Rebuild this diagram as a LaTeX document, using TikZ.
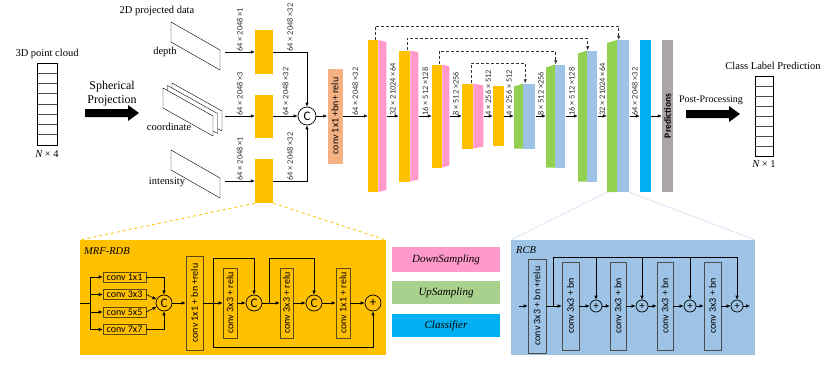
\documentclass[tikz,border=0pt]{standalone}
\usepackage{fontspec}
\setmainfont{Liberation Serif}
\setsansfont{Carlito}
\usepackage{graphicx}
\usetikzlibrary{arrows.meta,positioning,calc}

\definecolor{encyel}{HTML}{FFC000}
\definecolor{downpink}{HTML}{FF99CC}
\definecolor{upgreen}{HTML}{92D050}
\definecolor{upblue}{HTML}{9DC3E6}
\definecolor{clsblue}{HTML}{00B0F0}
\definecolor{predgray}{HTML}{AAA6A5}
\definecolor{convsalmon}{HTML}{F4B183}
\definecolor{leggreen}{HTML}{A9D18E}
\definecolor{boxline}{HTML}{5A4A10}

\begin{document}
\begin{tikzpicture}[x=1pt, y=-1pt,
  every node/.style={inner sep=0pt, font=\fontsize{10.5}{12}\selectfont},
  arrow/.style={-{Latex[length=4pt,width=3.5pt]}, line width=0.6pt},
  skip/.style={-{Latex[length=4pt,width=3.5pt]}, densely dashed, line width=0.6pt, black!80},
  dim/.style={rotate=90, anchor=west, font=\sffamily\fontsize{8.4}{9}\selectfont, text=black!80},
  conv/.style={font=\sffamily\fontsize{10}{11}\selectfont},
  mbox/.style={conv, draw=boxline, line width=0.6pt},
  rbox/.style={conv, draw=black!70, line width=0.6pt},
  circ/.style={circle, draw, line width=0.7pt, minimum size=16pt, font=\sffamily\fontsize{13}{13}\selectfont},
  pcirc/.style={circle, draw, line width=0.7pt, minimum size=12pt, font=\sffamily\fontsize{11}{11}\selectfont},
  down/.style={fill=white, path picture={\fill[downpink] (path picture bounding box.north west) -- ([yshift=-2pt]path picture bounding box.north east) -- ([yshift=2pt]path picture bounding box.south east) -- (path picture bounding box.south west) -- cycle;}},
  up/.style={fill=white, path picture={\fill[upgreen] ([yshift=-3pt]path picture bounding box.north west) -- (path picture bounding box.north east) -- (path picture bounding box.south east) -- (path picture bounding box.south west) -- cycle;}},
  fat/.style={fill=black}
]
\useasboundingbox (0,0) rectangle (830,367);

% input point cloud
\node (cloudlbl) at (47,54) {3D point cloud};
\node[draw, minimum width=20pt, minimum height=82pt] (cloud) at (47,104) {};
\foreach \i in {1,...,7}
  \draw[black!70] ($(cloud.north west)+(0,10.25*\i)$) -- ++(20,0);
\node (cloudn) at (47,154) {{\itshape N} × 4};

\node[align=center, font=\fontsize{12}{14}\selectfont] (sph) at (112,94) {Spherical\\Projection};
\fill[fat] (85,109) -- (128,109) -- (128,105) -- (139,113) -- (128,121) -- (128,117) -- (85,117) -- cycle;

% projected images
\node (projlbl) at (157,11) {2D projected data};
\draw[fill=white] (171,22) -- (220,50) -- (220,70) -- (171,42) -- cycle;
\foreach \dx/\dy in {9/-5, 4.5/-2.5, 0/0}
  \draw[fill=white, shift={(\dx,\dy)}] (163,88) -- ++(50,28) -- ++(0,20) -- ++(-50,-28) -- cycle;
\draw[fill=white] (171,150) -- (220,178) -- (220,198) -- (171,170) -- cycle;
\node (depthlbl) at (165,52) {depth};
\node (coordlbl) at (169,127) {coordinate};
\node (intlbl) at (167,182) {intensity};
\coordinate (depthout) at (225,52);
\coordinate (coordout) at (225,116);
\coordinate (intout) at (225,181);

\node[fill=encyel, minimum width=18pt, minimum height=44pt] (b1) at (264,52) {};
\node[fill=encyel, minimum width=18pt, minimum height=43pt] (b2) at (264,116) {};
\node[fill=encyel, minimum width=18pt, minimum height=44pt] (b3) at (264,181) {};
\draw[arrow] (depthout) -- node[dim] {64 × 2048 ×1} (b1);
\draw[arrow] (coordout) -- node[dim] {64 × 2048 ×3} (b2);
\draw[arrow] (intout) -- node[dim] {64 × 2048 ×1} (b3);

\node[circ, minimum size=18pt] (cat) at (307,116) {C};
\draw[arrow] (b1) -| node[dim, pos=0.25] {64 × 2048 ×32} (cat);
\draw[arrow] (b2) -- node[dim] {64 × 2048 ×32} (cat);
\draw[arrow] (b3) -| node[dim, pos=0.25] {64 × 2048 ×32} (cat);

\node[fill=convsalmon, minimum width=15pt, minimum height=95pt, conv] (conv1) at (335,116) {\rotatebox{90}{conv 1x1 +bn+ relu}};
\draw[arrow] (cat) -- (conv1);

% encoder
\node[fill=encyel, minimum width=10pt, minimum height=152pt] (e1) at (373,116) {};
\node[down, minimum width=8pt, minimum height=152pt, right=0pt of e1] (e1p) {};
\node[fill=encyel, minimum width=11pt, minimum height=131pt] (e2) at (404.5,116) {};
\node[down, minimum width=8pt, minimum height=131pt, right=0pt of e2] (e2p) {};
\node[fill=encyel, minimum width=10pt, minimum height=103pt] (e3) at (437,116) {};
\node[down, minimum width=7pt, minimum height=103pt, right=0pt of e3] (e3p) {};
\node[fill=encyel, minimum width=11pt, minimum height=65pt] (e4) at (467.5,116) {};
\node[down, minimum width=10pt, minimum height=65pt, right=0pt of e4] (e4p) {};
\node[fill=encyel, minimum width=11pt, minimum height=60pt] (e5) at (498.5,116) {};

% decoder
\node[up, minimum width=9pt, minimum height=65pt] (d1g) at (518.5,116) {};
\node[fill=upblue, minimum width=12pt, minimum height=65pt, right=0pt of d1g] (d1b) {};
\node[up, minimum width=9pt, minimum height=103pt] (d2g) at (550.5,116) {};
\node[fill=upblue, minimum width=10pt, minimum height=103pt, right=0pt of d2g] (d2b) {};
\node[up, minimum width=9pt, minimum height=131pt] (d3g) at (582.5,116) {};
\node[fill=upblue, minimum width=10pt, minimum height=131pt, right=0pt of d3g] (d3b) {};
\node[up, minimum width=10pt, minimum height=152pt] (d4g) at (612,116) {};
\node[fill=upblue, minimum width=12pt, minimum height=152pt, right=0pt of d4g] (d4b) {};
\node[fill=clsblue, minimum width=11pt, minimum height=152pt] (cls) at (645.5,116) {};
\node[fill=predgray, minimum width=11pt, minimum height=152pt, font=\sffamily\bfseries\fontsize{9.5}{10}\selectfont] (pred) at (667.5,116) {\rotatebox{90}{Predictions}};

\draw[arrow] (conv1) -- node[dim] {64 × 2048 ×32} (e1);
\draw[arrow] (e1p) -- node[dim] {32 × 21024 ×64} (e2);
\draw[arrow] (e2p) -- node[dim] {16 × 512 ×128} (e3);
\draw[arrow] (e3p) -- node[dim] {8 × 512 ×256} (e4);
\draw[arrow] (e4p) -- node[dim] {4 × 256 × 512} (e5);
\draw[arrow] (e5) -- node[dim] {4 × 256 × 512} (d1g);
\draw[arrow] (d1b) -- node[dim] {8 × 512 ×256} (d2g);
\draw[arrow] (d2b) -- node[dim] {16 × 512 ×128} (d3g);
\draw[arrow] (d3b) -- node[dim] {32 × 21024 ×64} (d4g);
\draw[arrow] (d4b) -- node[dim] {64 × 2048 ×32} (cls);
\draw[arrow] (cls) -- (pred);

% skip connections
\draw[skip] ([xshift=2pt]e1.north) -- ++(0,-14) -| ([xshift=1.5pt]d4b.north west);
\draw[skip] ([xshift=2.5pt]e2.north) -- ++(0,-12) -| ([xshift=0.5pt]d3b.north west);
\draw[skip] ([xshift=2pt]e3.north) -- ++(0,-13) -| ([xshift=0.5pt]d2b.north west);
\draw[skip] ([xshift=3.5pt]e4.north) -- ++(0,-20) -| ([xshift=2pt]d1b.north west);

% output
\node[font=\fontsize{10}{12}\selectfont] (postlbl) at (711,100) {Post-Processing};
\fill[fat] (686,110) -- (729,110) -- (729,106) -- (740,114) -- (729,122) -- (729,118) -- (686,118) -- cycle;
\node (outlbl) at (773,66) {Class Label Prediction};
\node[draw, minimum width=18pt, minimum height=80pt] (outcol) at (764,116) {};
\foreach \i in {1,...,7}
  \draw[black!70] ($(outcol.north west)+(0,10*\i)$) -- ++(18,0);
\node (outn) at (764,164) {{\itshape N} × 1};

% MRF-RDB detail
\draw[encyel, dashed, line width=0.8pt] (b3.south west) -- (80,240);
\draw[encyel, dashed, line width=0.8pt] (b3.south east) -- (386,240);
\node[fill=encyel, minimum width=306pt, minimum height=115pt] (mrf) at (233,297.5) {};
\node[anchor=west, font=\itshape\fontsize{10.5}{12}\selectfont] (mrflbl) at (84,251) {MRF-RDB};
\coordinate (mrfin) at (80,303);
\coordinate (mrfbr) at (90,303);
\foreach \k/\y/\lab in {k1/277/1x1, k2/294.5/3x3, k3/312/5x5, k4/329.5/7x7}
  \node[mbox, minimum width=43pt, minimum height=10pt] (\k) at (124.5,\y) {conv \lab};
\draw[line width=0.6pt] (mrfin) -- (mrfbr);
\draw[line width=0.6pt] (mrfbr |- k1) -- (mrfbr |- k4);
\foreach \k in {k1,k2,k3,k4}
  \draw[arrow] (mrfbr |- \k) -- (\k);
\node[circ] (mcat) at (164,303) {C};
\draw[arrow] (k1) -| (mcat);
\draw[arrow] (k2.east) -- (mcat);
\draw[arrow] (k3.east) -- (mcat);
\draw[arrow] (k4) -| (mcat);

\node[mbox, minimum width=17pt, minimum height=94pt] (r1) at (194.5,303) {\rotatebox{90}{conv 1x1 + bn +relu}};
\node[mbox, minimum width=14pt, minimum height=70pt] (q1) at (230,303) {\rotatebox{90}{conv 3x3 + relu}};
\node[circ] (c1) at (254,303) {C};
\node[mbox, minimum width=13pt, minimum height=70pt] (q2) at (286.5,303) {\rotatebox{90}{conv 3x3 + relu}};
\node[circ] (c2) at (314,303) {C};
\node[mbox, minimum width=14pt, minimum height=70pt] (q3) at (343,303) {\rotatebox{90}{conv 1x1 + relu}};
\node[circ] (mplus) at (373,303) {+};
\coordinate (rbr) at (213,303);
\coordinate (cbr) at (269,303);
\draw[arrow] (mcat) -- (r1);
\draw[line width=0.6pt] (r1) -- (rbr);
\draw[arrow] (rbr) -- (q1);
\draw[arrow] (rbr) -- ++(0,-45) -| (c1);
\draw[arrow] (rbr) -- ++(0,44) -| (mplus);
\draw[arrow] (q1) -- (c1);
\draw[arrow] (c1) -- (q2);
\draw[arrow] (cbr) -- ++(0,-45) -| (c2);
\draw[arrow] (q2) -- (c2);
\draw[arrow] (c2) -- (q3);
\draw[arrow] (q3) -- (mplus);

% legend
\node[fill=downpink, minimum width=108pt, minimum height=25pt, font=\itshape\fontsize{11}{12}\selectfont] (lgdown) at (446,259.5) {DownSampling};
\node[fill=leggreen, minimum width=108pt, minimum height=23pt, font=\itshape\fontsize{11}{12}\selectfont] (lgup) at (446,292.5) {UpSampling};
\node[fill=clsblue, minimum width=108pt, minimum height=23pt, font=\itshape\fontsize{11}{12}\selectfont] (lgcls) at (446,325.5) {Classifier};

% RCB detail
\draw[upblue, densely dotted, line width=0.7pt] (d4g.south west) -- (511,240);
\draw[upblue, densely dotted, line width=0.7pt] (d4b.south east) -- (755,240);
\node[fill=upblue, minimum width=244pt, minimum height=115pt] (rcb) at (633,297.5) {};
\node[anchor=west, font=\itshape\fontsize{10.5}{12}\selectfont] (rcblbl) at (516,250) {RCB};
\coordinate (rcbin) at (519,306);
\coordinate (sbr) at (553,306);
\coordinate (rtop) at (553,257);
\coordinate (rcbout) at (750,306);
\node[rbox, minimum width=18pt, minimum height=94pt] (s0) at (537,306) {\rotatebox{90}{conv 3x3 + bn +relu}};
\node[rbox, minimum width=17pt, minimum height=88pt] (s1) at (570.5,306) {\rotatebox{90}{conv 3x3 + bn}};
\node[pcirc] (p1) at (596,306) {+};
\node[rbox, minimum width=16pt, minimum height=88pt] (s2) at (618,306) {\rotatebox{90}{conv 3x3 + bn}};
\node[pcirc] (p2) at (642,306) {+};
\node[rbox, minimum width=16pt, minimum height=88pt] (s3) at (665,306) {\rotatebox{90}{conv 3x3 + bn}};
\node[pcirc] (p3) at (690,306) {+};
\node[rbox, minimum width=17pt, minimum height=88pt] (s4) at (712.5,306) {\rotatebox{90}{conv 3x3 + bn}};
\node[pcirc] (p4) at (737,306) {+};
\draw[arrow] (rcbin) -- (s0);
\draw[line width=0.6pt] (s0) -- (sbr);
\draw[arrow] (sbr) -- (s1);
\draw[arrow] (sbr) -- (rtop) -| (p4);
\foreach \p in {p1,p2,p3}
  \draw[arrow] (\p |- rtop) -- (\p);
\draw[arrow] (s1) -- (p1);
\draw[arrow] (p1) -- (s2);
\draw[arrow] (s2) -- (p2);
\draw[arrow] (p2) -- (s3);
\draw[arrow] (s3) -- (p3);
\draw[arrow] (p3) -- (s4);
\draw[arrow] (s4) -- (p4);
\draw[arrow] (p4) -- (rcbout);
\end{tikzpicture}
\end{document}
